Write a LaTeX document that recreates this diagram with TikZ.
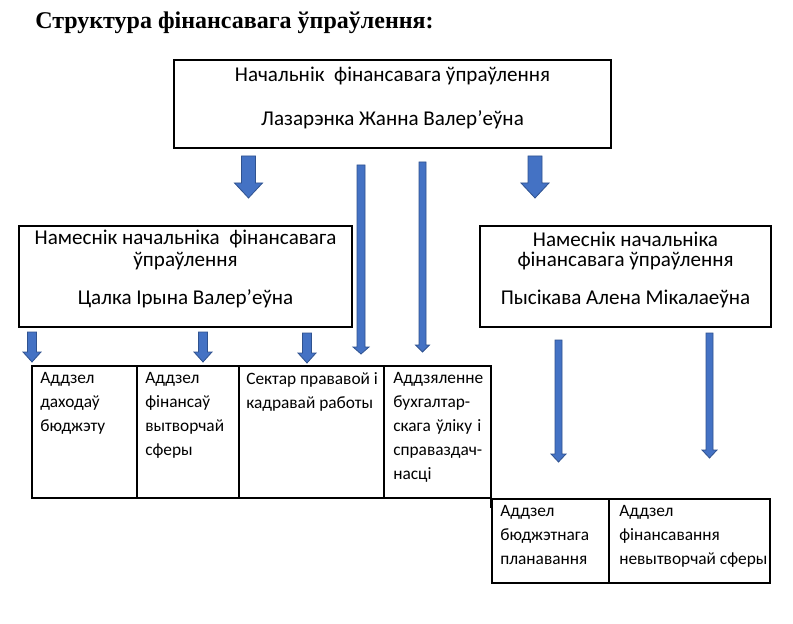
\documentclass[tikz,border=0pt]{standalone}
\usepackage{fontspec}
\setmainfont{Carlito}
\newfontfamily\titlefont{Liberation Serif}
\begin{document}
\begin{tikzpicture}[x=0.75pt,y=-0.75pt,
  box/.style={draw=black,line width=0.8pt,rectangle,inner sep=0pt},
  boxtext/.style={inner sep=0pt,font=\fontsize{15.8}{19}\selectfont},
  cell/.style={draw=black,line width=0.8pt},
  celltext/.style={inner sep=0pt,anchor=north west,align=left,font=\fontsize{13}{18}\selectfont},
  arrowstyle/.style={fill=arrowblue,draw=arrowedge,line width=0.6pt,line join=miter}]
\definecolor{arrowblue}{HTML}{4472C4}
\definecolor{arrowedge}{HTML}{2F528F}
\newcommand{\blockarrow}[6]{%
  \filldraw[arrowstyle] ({#1-#4},#2) -- ({#1+#4},#2) -- ({#1+#4},{#3-#6}) -- ({#1+#5},{#3-#6}) -- (#1,#3) -- ({#1-#5},{#3-#6}) -- ({#1-#4},{#3-#6}) -- cycle;}
\useasboundingbox[fill=white] (0,0) rectangle (793,624);

% title
\node[anchor=west,inner sep=0pt,font=\titlefont\bfseries\fontsize{18}{20}\selectfont] (title) at (35,23) {Структура фінансавага ўпраўлення:};

% boxes
\node[box,minimum width=327.75pt,minimum height=66pt] (top) at (392.5,104) {};
\node[boxtext] (topa) at (392.5,76) {Начальнік\ \ фінансавага ўпраўлення};
\node[boxtext] (topb) at (392.5,120) {Лазарэнка Жанна Валер’еўна};

\node[box,minimum width=249.75pt,minimum height=75.75pt] (left) at (185.5,276.5) {};
\node[boxtext] (lefta) at (185.5,239) {Намеснік начальніка\ \ фінансавага};
\node[boxtext] (leftb) at (185.5,261) {ўпраўлення};
\node[boxtext] (leftc) at (185.5,299) {Цалка Ірына Валер’еўна};

\node[box,minimum width=218.25pt,minimum height=75.75pt] (right) at (625.5,276.5) {};
\node[boxtext] (righta) at (625.5,239) {Намеснік начальніка};
\node[boxtext] (rightb) at (625.5,261) {фінансавага ўпраўлення};
\node[boxtext] (rightc) at (625.5,299) {Пысікава Алена Мікалаеўна};

% arrows
\blockarrow{248.5}{156}{198}{7}{14}{15}
\blockarrow{535}{156}{198}{7}{14}{15}
\blockarrow{361}{165}{354}{4}{8}{7}
\blockarrow{422.5}{162}{352}{3.5}{7}{7}
\blockarrow{32}{332}{362}{4.5}{9}{10}
\blockarrow{203}{332}{362}{4.5}{9}{10}
\blockarrow{307}{333}{363}{4.5}{9}{10}
\blockarrow{558.5}{340}{462}{3.5}{7.5}{8}
\blockarrow{709.5}{333}{458}{3.5}{7.5}{8}

% first table
\draw[cell] (32,366) rectangle (491,498);
\draw[cell] (137,366) -- (137,498);
\draw[cell] (239,366) -- (239,498);
\draw[cell] (384,366) -- (384,498);
\node[celltext] (c1) at (40,372) {Аддзел\\даходаў\\бюджэту};
\node[celltext] (c2) at (145,372) {Аддзел\\фінансаў\\вытворчай\\сферы};
\node[celltext] (c3) at (246,372) {Сектар прававой і\\кадравай работы};
\node[celltext] (c4) at (393,372) {Аддзяленне\\бухгалтар-\\\makebox[66pt][s]{скага ўліку і}\\справаздач-\\насці};

% second table
\draw[cell] (491,498) -- (491,508);
\draw[cell] (492,499) rectangle (770,583);
\draw[cell] (609,499) -- (609,583);
\node[celltext] (d1) at (500,505) {Аддзел\\бюджэтнага\\планавання};
\node[celltext] (d2) at (619,505) {Аддзел\\фінансавання\\невытворчай сферы};
\end{tikzpicture}
\end{document}
